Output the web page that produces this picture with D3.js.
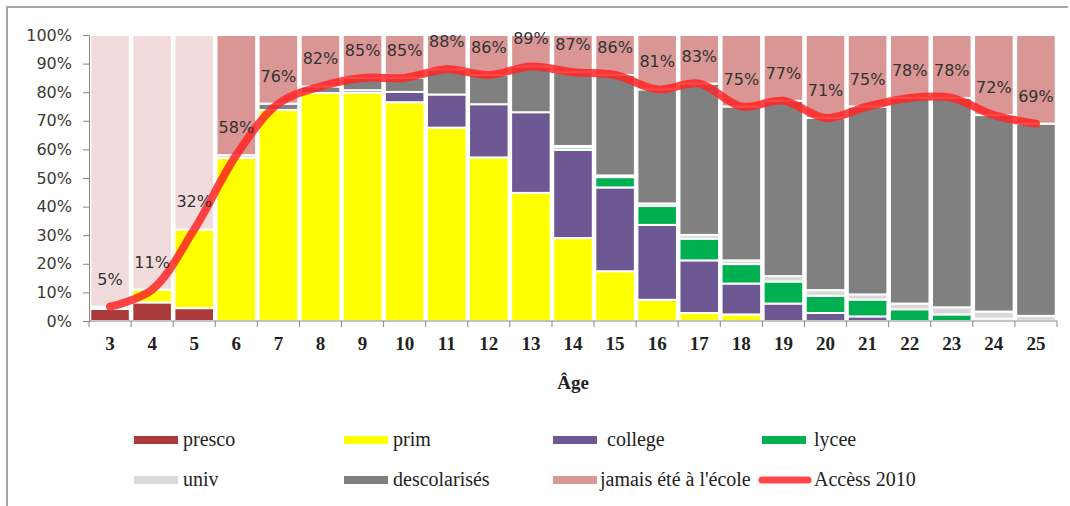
<!DOCTYPE html>
<html>
<head>
<meta charset="utf-8">
<script src="https://cdn.jsdelivr.net/npm/d3@7/dist/d3.min.js"></script>
<style>
  html, body { margin: 0; padding: 0; background: #fff; }
  svg { display: block; }
</style>
</head>
<body>
<svg id="chart" width="1070" height="506"></svg>
<script>
// Ages (x categories)
const ages = [3, 4, 5, 6, 7, 8, 9, 10, 11, 12, 13, 14, 15, 16, 17, 18, 19, 20, 21, 22, 23, 24, 25];

// Share of each age group by schooling status (%)
const presco  = [4.2, 6.5, 4.5, 0, 0, 0, 0, 0, 0, 0, 0, 0, 0, 0, 0, 0, 0, 0, 0, 0, 0, 0, 0];
const prim    = [0, 4.5, 27.5, 57, 73.8, 79.7, 79.8, 76.5, 67.6, 57.2, 44.8, 29, 17.4, 7.4, 2.8, 2.3, 0, 0, 0, 0, 0, 0, 0];
const college = [0, 0, 0, 0, 0, 0, 0.9, 3.6, 11.6, 18.6, 28.2, 30.8, 29.3, 26.2, 18.4, 10.8, 6.1, 2.8, 1.6, 0, 0, 0, 0];
const lycee   = [0, 0, 0, 0, 0, 0, 0, 0, 0, 0, 0, 0.9, 3.6, 6.6, 7.6, 6.8, 7.7, 6, 5.9, 4.1, 2.3, 0.8, 0];
const univ    = [0.8, 0, 0, 1, 0, 0, 0, 0, 0, 0, 0, 0.5, 0.6, 0.9, 1.3, 1.3, 1.9, 2, 1.8, 2, 2.5, 2.5, 1.8];
const descol  = [0, 0, 0, 0, 2.2, 2.3, 4.3, 4.9, 8.8, 10.2, 16, 25.8, 35.1, 39.9, 52.9, 53.8, 61.3, 60.2, 65.7, 71.9, 73.2, 68.7, 67.2];
const jamais  = [95, 89, 68, 42, 24, 18, 15, 15, 12, 14, 11, 13, 14, 19, 17, 25, 23, 29, 25, 22, 22, 28, 31];

// Access rate, 2010 (%)
const acces2010 = [5, 11, 32, 58, 76, 82, 85, 85, 88, 86, 89, 87, 86, 81, 83, 75, 77, 71, 75, 78, 78, 72, 69];

const yTicks = [0, 10, 20, 30, 40, 50, 60, 70, 80, 90, 100];

const seriesKeys = ["presco", "prim", "college", "lycee", "univ", "descol", "jamais"];
const seriesLabels = {
  presco: "presco", prim: "prim", college: "college", lycee: "lycee",
  univ: "univ", descol: "descolarisés", jamais: "jamais été à l'école"
};
const colors = {
  presco: "#ab3a3a", prim: "#ffff00", college: "#6d5893", lycee: "#00b050",
  univ: "#d9d9d9", descol: "#808080", jamais: "#d99694"
};
const jamaisYoung = "#f2dcdb";
const lineColor = "#ff2424";

const rows = ages.map((a, i) => ({
  age: a, presco: presco[i], prim: prim[i], college: college[i], lycee: lycee[i],
  univ: univ[i], descol: descol[i], jamais: jamais[i]
}));

const svg = d3.select("#chart");

// outer frame
svg.append("path")
  .attr("d", "M7,506V7H1068")
  .attr("fill", "none")
  .attr("stroke", "#a6a6a6")
  .attr("stroke-width", 2);

const plot = { left: 89, right: 1057, top: 35, bottom: 321 };

const x = d3.scaleBand()
  .domain(ages)
  .range([plot.left, plot.right])
  .paddingInner(0.06)
  .paddingOuter(0.03);

const y = d3.scaleLinear().domain([0, 100]).range([plot.bottom, plot.top]);

const stacked = d3.stack().keys(seriesKeys)(rows);

const gBars = svg.append("g");
stacked.forEach(layer => {
  const key = layer.key;
  gBars.append("g")
    .selectAll("rect")
    .data(layer)
    .join("rect")
    .filter(d => d[1] - d[0] > 0)
    .attr("x", d => x(d.data.age))
    .attr("width", x.bandwidth())
    .attr("y", d => y(d[1]))
    .attr("height", d => y(d[0]) - y(d[1]))
    .attr("fill", d => (key === "jamais" && d.data.age < 6) ? jamaisYoung : colors[key])
    .attr("stroke", "#fff")
    .attr("stroke-width", 2);
});

// y axis
const yAxis = d3.axisLeft(y)
  .tickValues(yTicks)
  .tickFormat(d => d + "%")
  .tickSize(6)
  .tickPadding(11);
const gy = svg.append("g")
  .attr("transform", `translate(${plot.left},0)`)
  .call(yAxis);
gy.select(".domain").attr("stroke", "#868686");
gy.selectAll(".tick line").attr("stroke", "#868686");
gy.selectAll("text")
  .attr("font-family", "DejaVu Sans, sans-serif")
  .attr("font-size", 16)
  .attr("fill", "#3a3a3a");

// x axis: baseline, boundary ticks and centred labels
const gx = svg.append("g");
gx.append("line")
  .attr("x1", plot.left).attr("x2", plot.right)
  .attr("y1", plot.bottom).attr("y2", plot.bottom)
  .attr("stroke", "#868686");
const boundaries = d3.range(ages.length + 1).map(i => plot.left + i * (plot.right - plot.left) / ages.length);
gx.selectAll("line.tk")
  .data(boundaries)
  .join("line")
  .attr("class", "tk")
  .attr("x1", d => d).attr("x2", d => d)
  .attr("y1", plot.bottom).attr("y2", plot.bottom + 6)
  .attr("stroke", "#868686");
gx.selectAll("text")
  .data(ages)
  .join("text")
  .attr("x", d => x(d) + x.bandwidth() / 2)
  .attr("y", 350)
  .attr("text-anchor", "middle")
  .attr("font-family", "Liberation Serif, serif")
  .attr("font-weight", "bold")
  .attr("font-size", 19)
  .attr("fill", "#222")
  .text(d => d);

svg.append("text")
  .attr("x", (plot.left + plot.right) / 2)
  .attr("y", 389)
  .attr("text-anchor", "middle")
  .attr("font-family", "Liberation Serif, serif")
  .attr("font-weight", "bold")
  .attr("font-size", 19)
  .attr("fill", "#222")
  .text("Âge");

// access line
const cx = d => x(d) + x.bandwidth() / 2;
const line = d3.line()
  .x((d, i) => cx(ages[i]))
  .y(d => y(d))
  .curve(d3.curveCatmullRom.alpha(0.5));
svg.append("path")
  .datum(acces2010)
  .attr("d", line)
  .attr("fill", "none")
  .attr("stroke", lineColor)
  .attr("stroke-opacity", 0.85)
  .attr("stroke-width", 8)
  .attr("stroke-linecap", "round")
  .attr("stroke-linejoin", "round");

// value labels
svg.append("g")
  .selectAll("text")
  .data(acces2010)
  .join("text")
  .attr("x", (d, i) => cx(ages[i]))
  .attr("y", d => y(d) - 22)
  .attr("text-anchor", "middle")
  .attr("font-family", "DejaVu Sans, sans-serif")
  .attr("font-size", 16)
  .attr("fill", "#333")
  .text(d => d + "%");

// legend
const legendItems = [
  { key: "presco", col: 0, row: 0 },
  { key: "prim", col: 1, row: 0 },
  { key: "college", col: 2, row: 0 },
  { key: "lycee", col: 3, row: 0 },
  { key: "univ", col: 0, row: 1 },
  { key: "descol", col: 1, row: 1 },
  { key: "jamais", col: 2, row: 1 },
  { key: "acces", col: 3, row: 1 }
];
const colX = [134, 344, 553, 762];
const rowY = [440, 480];
const textX = [183, 393, 600, 814];
const lg = svg.append("g");
legendItems.forEach(it => {
  const sx = colX[it.col], sy = rowY[it.row];
  if (it.key === "acces") {
    lg.append("line")
      .attr("x1", sx).attr("x2", sx + 46)
      .attr("y1", sy).attr("y2", sy)
      .attr("stroke", lineColor)
      .attr("stroke-opacity", 0.85)
      .attr("stroke-width", 7)
      .attr("stroke-linecap", "round");
  } else {
    lg.append("rect")
      .attr("x", sx).attr("y", sy - 4)
      .attr("width", 44).attr("height", 8)
      .attr("fill", colors[it.key]);
  }
  lg.append("text")
    .attr("x", it.key === "college" ? textX[it.col] + 7 : textX[it.col])
    .attr("y", sy + 6)
    .attr("font-family", "Liberation Serif, serif")
    .attr("font-size", 20)
    .attr("fill", "#222")
    .text(it.key === "acces" ? "Accèss 2010" : seriesLabels[it.key]);
});
</script>
</body>
</html>
